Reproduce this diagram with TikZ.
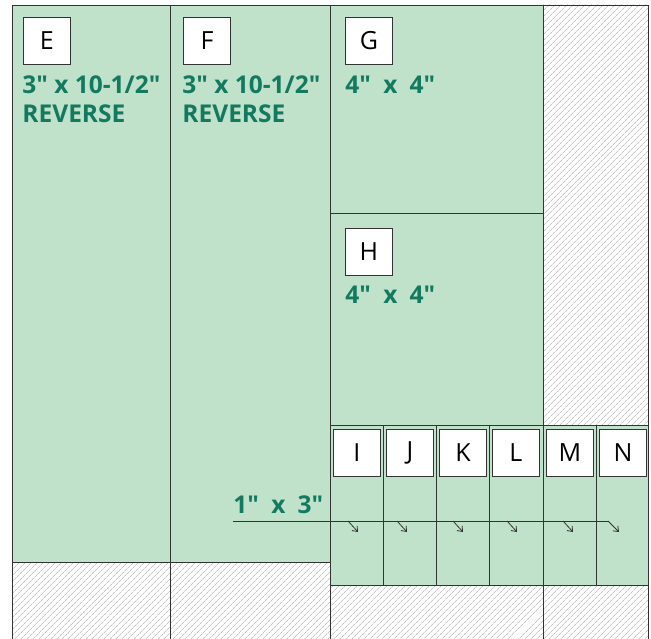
\documentclass[tikz,border=0pt]{standalone}
\usepackage{fontspec}
\setmainfont{Open Sans}
\usetikzlibrary{arrows.meta, positioning, patterns.meta}
\definecolor{cpiece}{HTML}{C0E2CB}
\definecolor{cteal}{HTML}{137A60}
\definecolor{cline}{HTML}{333333}
\definecolor{chatch}{HTML}{C4C4C4}
\newcommand{\by}{\hspace{0.5em}x\hspace{0.5em}}
\tikzset{
  every picture/.style={line width=0.9pt, x=1pt, y=-1pt},
  piece/.style={draw=cline, fill=cpiece},
  waste/.style={draw=cline, pattern={Lines[angle=45, distance=4pt, line width=0.8pt]}, pattern color=chatch},
  tag/.style={draw=cline, fill=white, minimum size=47pt, inner sep=0pt, anchor=north west, font=\fontsize{25}{25}\selectfont},
  size/.style={text=cteal, font=\bfseries\fontsize{24.5}{29}\selectfont, align=left, anchor=base west, inner sep=0pt},
  leader/.style={draw=cline, line width=0.8pt},
  arrow/.style={-{Straight Barb[length=4.5pt, width=7pt]}, draw=cline, line width=0.8pt},
}

\begin{document}
\begin{tikzpicture}
  \useasboundingbox (0,0) rectangle (651,639);
  % long strips
  \draw[piece] (12,5) rectangle (170,562);
  \draw[piece] (170,5) rectangle (330,562);
  \draw[waste] (12,562) rectangle (170,650);
  \draw[waste] (170,562) rectangle (330,650);
  % squares
  \draw[piece] (330,5) rectangle (543,213);
  \draw[piece] (330,213) rectangle (543,425);
  \draw[waste] (543,5) rectangle (648,425);
  % small strips
  \foreach \xa/\xb in {330/383, 383/436, 436/489, 489/543, 543/596, 596/648}
    \draw[piece] (\xa,425) rectangle (\xb,585);
  \draw[waste] (330,585) rectangle (543,650);
  \draw[waste] (543,585) rectangle (648,650);

  % tags
  \node[tag] (tagE) at (23,17) {E};
  \node[tag] (tagF) at (183,17) {F};
  \node[tag] (tagG) at (345,17) {G};
  \node[tag] (tagH) at (345,228) {H};
  \foreach \t/\xa in {I/333, J/386, K/439, L/492, M/546, N/599}
    \node[tag] (tag\t) at (\xa,429) {\t};

  % sizes
  \node[size] (sizeE) at (22,123) {3″ x 10-1/2″\\REVERSE};
  \node[size] (sizeF) at (182,123) {3″ x 10-1/2″\\REVERSE};
  \node[size] (sizeG) at (345,94) {4″\by4″};
  \node[size] (sizeH) at (345,303) {4″\by4″};
  \node[size] (sizeI) at (233,513) {1″\by3″};

  % leader to the small strips
  \coordinate (lead) at (233,521);
  \coordinate (leadend) at (608,521);
  \draw[leader] (lead) -- (leadend);
  \draw[arrow] (leadend) -- ++(11,11);
  \foreach \xa in {348, 397, 453, 507, 563}
    \draw[arrow] (\xa,521) -- ++(10,11);
\end{tikzpicture}
\end{document}
